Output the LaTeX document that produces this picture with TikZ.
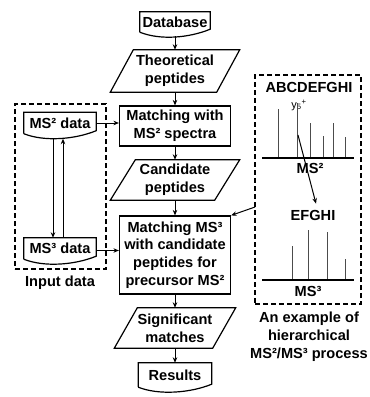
\documentclass[tikz,border=0pt]{standalone}
\usepackage{fontspec}
\setmainfont{Liberation Sans}
\usetikzlibrary{arrows.meta}

\tikzset{
  every node/.style={font={\bfseries\fontsize{14.6}{17.8}\selectfont}, align=center, inner sep=0pt},
  process/.style={draw, line width=1.2pt, minimum width=111pt},
  frame/.style={draw, line width=1.2pt, dash pattern=on 5pt off 3pt},
  flow/.style={line width=1pt, -{Stealth[length=5.5pt,width=4.5pt]}},
  peak/.style={line width=0.9pt, gray!60!black},
  axis/.style={line width=1.3pt},
}

% outline with a wavy lower edge (document)
\newcommand{\docframe}[1]{%
  \draw[line width=1.2pt] (#1.south west) -- (#1.north west) -- (#1.north east)
    -- ([yshift=3pt]#1.south east) .. controls +(-22,9) and +(20,8) .. (#1.south west);}
% slanted outline (data)
\newcommand{\dataframe}[2]{%
  \draw[line width=1.2pt] (#1.south west) -- ([xshift=#2]#1.north west) -- (#1.north east)
    -- ([xshift=-#2]#1.south east) -- cycle;}

\begin{document}
\begin{tikzpicture}[x=1pt, y=-1pt]
    \useasboundingbox (0,0) rectangle (370,397);

    \node[minimum width=70pt, minimum height=20pt] (db) at (175,22) {Database};
    \node[minimum width=129pt, minimum height=42pt] (theo) at (175,71) {Theoretical\\peptides};
    \node[process, minimum height=40pt] (ms2match) at (175,126) {Matching with\\MS² spectra};
    \node[minimum width=129pt, minimum height=40pt] (cand) at (175,180) {Candidate\\peptides};
    \node[process, minimum height=78pt] (ms3match) at (175,255) {Matching MS³\\with candidate\\peptides for\\precursor MS²};
    \node[minimum width=121pt, minimum height=40pt] (sig) at (175,328) {Significant\\matches};
    \node[minimum width=73pt, minimum height=24pt] (res) at (175,375) {Results};
    \docframe{db}
    \dataframe{theo}{23pt}
    \dataframe{cand}{25pt}
    \dataframe{sig}{23pt}
    \docframe{res}

    \node[frame, minimum width=91pt, minimum height=165pt] (input) at (60.5,186.5) {};
    \node[minimum width=72pt, minimum height=21pt] (ms2data) at (60,123) {MS² data};
    \node[minimum width=72pt, minimum height=21pt] (ms3data) at (60,248.5) {MS³ data};
    \node (inputlab) at (60,283) {Input data};
    \docframe{ms2data}
    \docframe{ms3data}

    \node[frame, minimum width=106pt, minimum height=229pt] (example) at (308,189.5) {};
    \node (seq2) at (309,87) {ABCDEFGHI};
    \node[font={\fontsize{11}{11}\selectfont}] (ion) at (299,105) {y\textsubscript{5}\textsuperscript{+}};
    \foreach \x/\h in {278/109, 297/103, 310/123, 323/136, 333/123, 345/137}
        \draw[peak] (\x,158) -- (\x,\h);
    \draw[axis] (262,158) -- (354,158);
    \node (ms2lab) at (310,168) {MS²};
    \node (seq3) at (313,215) {EFGHI};
    \foreach \x/\h in {292/246, 308/230, 327/232, 345/259}
        \draw[peak] (\x,280) -- (\x,\h);
    \draw[axis] (262,280) -- (354,280);
    \node (ms3lab) at (308,291) {MS³};
    \node (caption) at (309,337) {An example of\\hierarchical\\MS²/MS³ process};
    \coordinate (frag) at (298,135);
    \coordinate (link) at (255,207);

    \draw[flow] ([yshift=-4pt]db.south) -- (theo.north);
    \draw[flow] (theo.south) -- (ms2match.north);
    \draw[flow] (ms2match.south) -- (cand.north);
    \draw[flow] (cand.south) -- (ms3match.north);
    \draw[flow] (ms3match.south) -- (sig.north);
    \draw[flow] (sig.south) -- (res.north);
    \draw[flow] (ms2data.east) -- (ms2data.east -| ms2match.west);
    \draw[flow] ([yshift=-2pt]ms3data.east) -- ([yshift=-2pt]ms3data.east -| ms3match.west);
    \draw[flow] ([xshift=-7pt,yshift=-5pt]ms2data.south) -- ([xshift=-7pt]ms3data.north);
    \draw[flow] ([xshift=3pt]ms3data.north) -- ([xshift=3pt,yshift=-5pt]ms2data.south);
    \draw[flow] (frag) -- ([xshift=3pt,yshift=6pt]seq3.north);
    \draw[flow] (link) -- (ms3match.north east);
\end{tikzpicture}
\end{document}
